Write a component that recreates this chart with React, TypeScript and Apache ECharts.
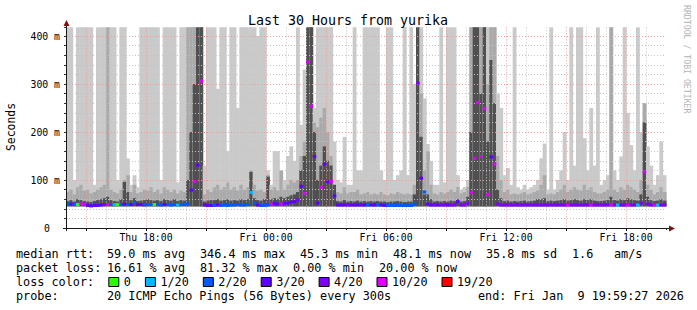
import React, { useEffect, useRef } from 'react';
import * as echarts from 'echarts';

// ---- time frame (hours since Thu 00:00) ----
const START_HOUR = 14;
const END_HOUR = 44;
const BIN_HOURS = 1 / 6; // 10-minute bins
const Y_MAX = 418; // ms
const RTT_FLOOR = 45; // ms, lowest ping of the smoke

// ---- smoke: top of light / mid / dark bands (ms), 420 = off the chart ----
const LIGHT_TOP = [
  420,420,100,420,420,420,420,420,90,420,420,420,420,420,420,100,420,420,145,90,110,85,420,420,420,420,420,420,100,420,420,420,420,95,420,420,
  420,420,420,420,420,130,420,420,420,290,420,420,160,420,420,250,420,420,420,420,420,400,420,420,120,90,160,160,100,100,150,170,140,420,215,330,
  420,420,250,420,420,420,420,420,180,100,95,190,90,90,420,120,120,420,420,420,420,420,120,100,420,420,100,110,120,420,110,420,300,420,420,270,
  175,140,90,90,420,95,420,420,420,110,80,85,100,420,420,420,420,420,420,420,420,280,250,110,125,90,420,85,80,90,80,85,90,100,145,176,
  80,420,80,100,120,200,100,420,130,420,420,187,120,250,130,420,90,100,110,420,120,100,149,420,240,173,120,420,200,260,170,130,90,110,180,110,
];
const MID_TOP = [
  75,80,70,85,90,78,80,72,75,80,85,90,420,80,75,72,80,100,110,75,90,72,75,80,78,85,75,80,72,85,80,75,80,72,78,75,
  420,420,420,420,420,70,80,75,85,90,80,85,95,80,85,78,90,80,85,120,90,78,80,75,110,80,85,78,120,80,90,100,95,100,150,180,
  420,420,220,210,230,250,200,150,90,75,72,85,72,75,75,80,70,72,75,70,72,70,75,70,68,72,70,75,72,70,72,70,90,420,280,120,
  160,90,72,70,75,72,75,80,75,85,72,75,85,420,420,420,420,420,300,420,420,150,100,75,80,70,72,70,72,75,70,72,75,78,90,110,
  70,72,70,75,80,90,75,80,85,80,78,90,80,85,75,72,72,75,80,420,80,75,85,80,90,85,80,75,100,260,90,80,70,75,85,75,
];
const DARK_TOP = [
  56,58,55,60,58,56,55,54,56,58,60,62,65,58,56,55,60,96,75,58,62,56,57,58,60,58,57,58,56,60,58,57,60,56,58,57,
  100,200,300,420,420,55,57,58,58,60,57,58,60,57,58,57,60,58,60,117,62,58,57,60,107,60,62,60,65,62,65,68,70,75,120,150,
  420,420,200,100,130,170,140,130,90,56,55,58,55,56,55,57,55,56,55,56,55,56,55,55,54,55,55,56,55,54,55,55,70,420,190,70,
  70,60,55,56,55,56,55,57,56,60,55,56,65,200,420,420,280,420,180,350,260,80,62,56,57,55,56,55,56,57,55,56,57,60,60,62,
  56,57,56,57,58,60,57,58,60,58,57,60,58,60,57,56,56,57,58,65,58,57,60,58,62,60,58,57,70,220,65,58,56,57,60,57,
];
// ---- median rtt (ms) and loss class per bin ----
const MEDIAN = [
  50,50,50,49,50,50,47,46,47,47,48,49,49,49,49,49,49,50,49,49,53,49,49,48,49,49,49,49,48,49,49,48,49,48,49,50,
  50,79,97,131,306,48,47,47,47,48,47,48,47,48,48,49,48,48,49,74,52,48,47,47,48,50,51,50,50,51,52,54,55,58,87,72,
  346,254,149,52,85,133,96,97,67,48,48,48,48,48,48,48,48,48,48,48,48,48,48,47,47,47,47,47,47,47,47,47,50,302,104,75,
  50,48,48,48,48,48,48,48,48,55,48,48,52,74,145,261,149,249,70,148,133,50,48,48,48,48,48,48,48,48,48,48,48,48,48,48,
  48,48,48,48,48,48,48,48,48,48,48,48,48,48,48,48,48,48,48,48,48,48,48,48,48,48,48,48,52,117,50,48,48,48,48,48,
];
const LOSS = [
  2,3,2,0,5,5,3,3,3,3,3,4,5,2,1,0,2,3,2,3,2,3,3,2,2,2,0,2,2,3,2,2,2,1,2,2,
  2,3,5,3,5,3,3,3,2,3,2,2,2,2,2,2,2,2,2,1,2,3,2,2,2,5,3,3,5,3,3,3,3,4,3,5,
  5,5,3,3,5,3,3,5,3,3,3,3,4,3,3,3,3,3,2,3,3,2,3,3,2,2,2,2,2,2,2,2,2,4,3,2,
  3,3,4,3,4,4,3,4,4,3,4,4,4,5,5,5,5,5,5,3,5,4,4,4,4,4,4,4,4,4,4,4,4,4,4,4,
  4,4,4,4,4,4,5,4,4,4,4,4,4,5,4,4,4,4,4,5,4,1,4,4,5,4,4,1,4,5,4,4,5,1,4,4,
];
const LOSS_LABELS = ['0', '1/20', '2/20', '3/20', '4/20', '10/20', '19/20'];
const LOSS_COLORS = ['#26ff00', '#00b8ff', '#0059ff', '#5e00ff', '#7e00ff', '#dd00ff', '#ff0000'];

// ---- axis labels ----
const X_LABEL_HOURS = [18, 24, 30, 36, 42];
const X_LABEL_TEXTS = ['Thu 18:00', 'Fri 00:00', 'Fri 06:00', 'Fri 12:00', 'Fri 18:00'];
const Y_LABEL_STEP = 100;
const Y_GRID_STEP = 20;

// ---- legend texts ----
const TITLE = 'Last 30 Hours from yurika';
const RTT_ROW = ['median rtt:', '59.0 ms avg', '346.4 ms max', '45.3 ms min', '48.1 ms now', '35.8 ms sd', '1.6', 'am/s'];
const RTT_ROW_X = [16, 107, 200, 300, 393, 486, 572, 614];
const LOSS_ROW = ['packet loss:', '16.61 % avg', '81.32 % max', '0.00 % min', '20.00 % now'];
const LOSS_ROW_X = [16, 107, 200, 293, 379];
const PROBE_TEXT = '20 ICMP Echo Pings (56 Bytes) every 300s';
const END_TEXT = 'end: Fri Jan\u00a0 9 19:59:27 2026';

const MONO = '"DejaVu Sans Mono", monospace';
const C_LIGHT = '#cacaca';
const C_MID = '#aaaaaa';
const C_DARK = '#505050';

export default function App() {
  const ref = useRef<HTMLDivElement>(null);

  useEffect(() => {
    if (!ref.current) return;
    const chart = echarts.init(ref.current, null, { renderer: 'svg' });

    const hours = Array.from({ length: END_HOUR - START_HOUR + 1 }, (_, i) => String(START_HOUR + i));
    const smokeData = LIGHT_TOP.map((lt, i) => [START_HOUR + i * BIN_HOURS, lt, MID_TOP[i], DARK_TOP[i]]);
    const medianData = MEDIAN.map((m, i) => [START_HOUR + i * BIN_HOURS, m, LOSS[i]]);

    const grid = { left: 66, top: 228 - Y_MAX * 0.48, width: 600, height: Y_MAX * 0.48 };
    const axisFont = { fontFamily: MONO, fontSize: 9.8, color: '#000' };

    const legendFont = `11.8px ${MONO}`;
    const rowY = [254, 268, 282, 296];
    const txt = (text: string, x: number, y: number, extra: any = {}) => ({
      type: 'text', x, y, z: 100,
      style: { text, font: legendFont, fill: '#000', textAlign: 'left', textVerticalAlign: 'middle', ...extra },
    });

    const graphics: any[] = [];
    graphics.push({
      type: 'text', x: 348, y: 20, z: 100,
      style: { text: TITLE, font: `13.3px ${MONO}`, fill: '#000', textAlign: 'center', textVerticalAlign: 'middle' },
    });
    graphics.push({
      type: 'text', x: 11, y: 127, rotation: Math.PI / 2, z: 100,
      style: { text: 'Seconds', font: `11.4px ${MONO}`, fill: '#000', textAlign: 'center', textVerticalAlign: 'middle' },
    });
    graphics.push({
      type: 'text', x: 687, y: 5, rotation: -Math.PI / 2, z: 100,
      style: { text: 'RRDTOOL / TOBI OETIKER', font: `8.2px ${MONO}`, fill: '#b4b4b4', textAlign: 'left', textVerticalAlign: 'middle' },
    });
    RTT_ROW.forEach((t, i) => graphics.push(txt(t, RTT_ROW_X[i], rowY[0])));
    LOSS_ROW.forEach((t, i) => graphics.push(txt(t, LOSS_ROW_X[i], rowY[1])));
    graphics.push(txt('loss color:', 16, rowY[2]));
    let bx = 108.3;
    LOSS_LABELS.forEach((lab, i) => {
      graphics.push({
        type: 'rect', z: 100,
        shape: { x: bx + 0.5, y: rowY[2] - 4.5, width: 10, height: 9 },
        style: { fill: LOSS_COLORS[i], stroke: '#000', lineWidth: 1 },
      });
      graphics.push(txt(lab, bx + 15.5, rowY[2]));
      bx += 29.5 + lab.length * 7.1;
    });
    graphics.push(txt('probe:', 16, rowY[3]));
    graphics.push(txt(PROBE_TEXT, 107, rowY[3]));
    graphics.push(txt(END_TEXT, 478, rowY[3]));
    // axis lines and arrows
    graphics.push({ type: 'line', z: 90, shape: { x1: 66.5, y1: 231, x2: 66.5, y2: 25 }, style: { stroke: '#1a1a1a', lineWidth: 1 } });
    graphics.push({ type: 'line', z: 90, shape: { x1: 63, y1: 228.5, x2: 670, y2: 228.5 }, style: { stroke: '#1a1a1a', lineWidth: 1 } });
    graphics.push({ type: 'polygon', z: 91, shape: { points: [[63.5, 26], [69.5, 26], [66.5, 20]] }, style: { fill: '#7f1010' } });
    graphics.push({ type: 'polygon', z: 91, shape: { points: [[669, 225.5], [669, 231.5], [675, 228.5]] }, style: { fill: '#7f1010' } });

    const option: any = {
      animation: false,
      backgroundColor: '#fff',
      grid,
      xAxis: [
        { type: 'value', min: START_HOUR, max: END_HOUR, show: false },
        {
          type: 'category', data: hours, boundaryGap: false, position: 'bottom', z: 3,
          axisLine: { show: false },
          axisLabel: { show: false },
          axisTick: { show: true, length: 2, interval: 0, lineStyle: { color: '#333' } },
          splitLine: {
            show: true,
            interval: (_i: number, v: string) => Number(v) % 3 !== 0 && Number(v) !== END_HOUR,
            lineStyle: { color: '#c4c4c4', type: [1, 2], width: 1 },
          },
        },
        {
          type: 'category', data: hours, boundaryGap: false, position: 'bottom', z: 3,
          axisLine: { show: false },
          axisTick: { show: true, length: 3, interval: (_i: number, v: string) => Number(v) % 3 === 0, lineStyle: { color: '#000' } },
          axisLabel: {
            show: true, margin: 4, ...axisFont,
            interval: (_i: number, v: string) => X_LABEL_HOURS.includes(Number(v)),
            formatter: (v: string) => {
              const k = X_LABEL_HOURS.indexOf(Number(v));
              return k >= 0 ? X_LABEL_TEXTS[k] : '';
            },
          },
          splitLine: {
            show: true,
            interval: (_i: number, v: string) => Number(v) % 3 === 0,
            lineStyle: { color: '#f39a9a', type: [1, 2], width: 1 },
          },
        },
      ],
      yAxis: {
        type: 'value', min: 0, max: Y_MAX, interval: Y_GRID_STEP, z: 3,
        axisLine: { show: false },
        axisTick: { show: true, length: 2, lineStyle: { color: '#333' } },
        axisLabel: {
          margin: 6, ...axisFont,
          formatter: (v: number) => (v === 0 ? '{z|0}' : v % Y_LABEL_STEP === 0 ? `${v} m` : ''),
          rich: { z: { fontFamily: MONO, fontSize: 9.8, color: '#000', padding: [0, 10, 0, 0] } },
        },
        splitLine: {
          show: true, showMaxLine: false,
          lineStyle: { color: ['#f39a9a', '#c4c4c4', '#c4c4c4', '#c4c4c4', '#c4c4c4'], type: [1, 2], width: 1 },
        },
      },
      series: [
        {
          type: 'custom', xAxisIndex: 0, yAxisIndex: 0, z: 2,
          data: smokeData,
          encode: { x: 0, y: [1, 2, 3] },
          renderItem: (_p: any, api: any) => {
            const x0 = api.value(0);
            const base = api.coord([x0, RTT_FLOOR]);
            const w = api.size([BIN_HOURS, 0])[0];
            const band = (v: number, fill: string) => {
              const p = api.coord([x0, Math.min(v, Y_MAX)]);
              return { type: 'rect', shape: { x: base[0], y: p[1], width: w + 0.5, height: base[1] - p[1] }, style: { fill } };
            };
            return { type: 'group', children: [band(api.value(1), C_LIGHT), band(api.value(2), C_MID), band(api.value(3), C_DARK)] };
          },
        },
        {
          type: 'custom', xAxisIndex: 0, yAxisIndex: 0, z: 5,
          data: medianData,
          encode: { x: 0, y: 1 },
          renderItem: (_p: any, api: any) => {
            const x0 = api.value(0);
            const p = api.coord([x0, api.value(1)]);
            const w = api.size([BIN_HOURS, 0])[0];
            return { type: 'rect', shape: { x: p[0], y: p[1] - 1.5, width: w + 0.3, height: 3 }, style: { fill: LOSS_COLORS[api.value(2)] } };
          },
        },
      ],
      graphic: graphics,
    };

    chart.setOption(option);
    return () => chart.dispose();
  }, []);

  return <div ref={ref} style={{ position: 'fixed', left: 0, top: 0, width: 697, height: 310, background: '#fff' }} />;
}
